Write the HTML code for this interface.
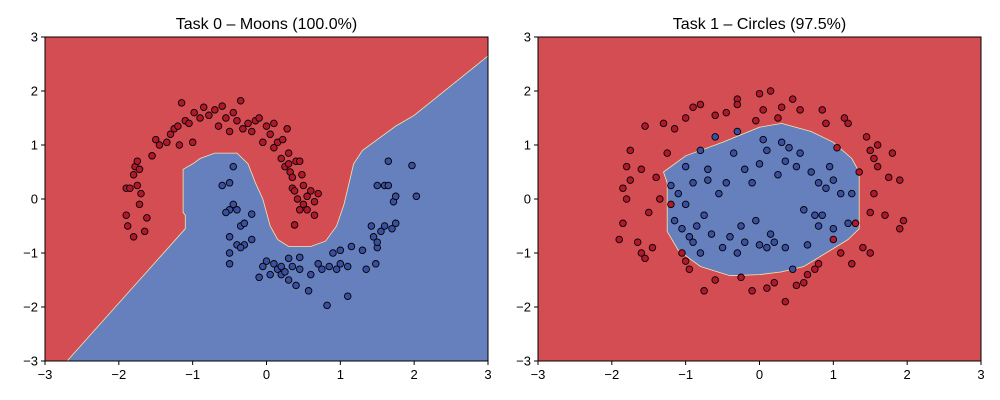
<!DOCTYPE html>
<html><head><meta charset="utf-8"><style>
html,body{margin:0;padding:0;background:#fff;}
svg{display:block;font-family:"Liberation Sans","DejaVu Sans",sans-serif;}
</style></head><body>
<svg id="chart" width="1000" height="400" viewBox="0 0 1000 400" xmlns="http://www.w3.org/2000/svg"></svg>
<script>
const ticks = [-3,-2,-1,0,1,2,3];
const tickLabels = ["\u22123","\u22122","\u22121","0","1","2","3"];
const titles = ["Task 0 \u2013 Moons (100.0%)","Task 1 \u2013 Circles (97.5%)"];
const boundary0 = [[-2.7,-3],[-1.1,-0.55],[-1.1,-0.3],[-1.13,-0.25],[-1.13,0.55],[-1.0,0.65],[-0.9,0.75],[-0.7,0.85],[-0.4,0.85],[-0.25,0.65],[-0.15,0.3],[-0.05,0],[0.05,-0.5],[0.15,-0.75],[0.3,-0.88],[0.6,-0.88],[0.8,-0.78],[0.95,-0.5],[1.05,-0.1],[1.18,0.65],[1.3,0.9],[1.75,1.35],[2,1.55],[3,2.65],[3,-3]];
const boundary1 = [[-1.3,0.5],[-1.0,0.8],[-0.5,1.05],[0,1.33],[0.3,1.4],[0.7,1.25],[1.0,1.05],[1.25,0.75],[1.35,0.5],[1.35,-0.55],[1.2,-0.75],[0.9,-1.0],[0.6,-1.25],[0.3,-1.35],[0,-1.4],[-0.4,-1.42],[-0.8,-1.25],[-1.1,-0.95],[-1.25,-0.6],[-1.25,0.3]];
const moonsRed = [[-1.9,0.2],[-1.85,0.2],[-1.9,-0.3],[-1.88,-0.5],[-1.8,-0.7],[-1.8,0.45],[-1.78,0.6],[-1.75,0.7],[-1.72,0.55],[-1.75,0.25],[-1.7,0.1],[-1.72,-0.1],[-1.65,-0.6],[-1.62,-0.35],[-1.55,0.8],[-1.5,1.1],[-1.45,1.0],[-1.35,1.05],[-1.3,1.2],[-1.25,1.3],[-1.2,1.35],[-1.15,1.78],[-1.1,1.45],[-1.05,1.4],[-1.0,1.05],[-0.98,1.6],[-0.9,1.5],[-0.85,1.7],[-0.78,1.55],[-0.7,1.65],[-0.65,1.35],[-0.6,1.72],[-0.55,1.5],[-0.5,1.25],[-0.45,1.6],[-0.4,1.45],[-0.35,1.82],[-0.32,1.3],[-0.25,1.4],[-0.2,1.25],[-0.15,1.45],[-0.1,1.5],[-0.05,1.05],[0,1.35],[0.05,1.2],[0.1,0.95],[0.15,1.05],[0.2,0.75],[0.22,1.1],[0.25,0.6],[0.28,1.3],[0.3,0.85],[0.32,0.5],[0.35,0.4],[0.35,0.2],[0.4,0.7],[0.42,0.0],[0.45,-0.2],[0.38,-0.48],[0.5,0.25],[0.5,-0.1],[0.55,0.05],[0.6,0.15],[0.65,-0.05],[0.65,-0.3],[0.7,0.1],[0.3,0.65],[0.38,0.15],[0.48,0.45],[-1.18,1.0],[0.1,1.4],[0.45,0.7],[0.55,-0.2]];
const moonsBlue = [[-0.6,0.25],[-0.5,0.3],[-0.45,0.6],[-0.5,-0.2],[-0.55,-0.25],[-0.45,-0.1],[-0.4,-0.2],[-0.35,-0.5],[-0.5,-0.7],[-0.5,-1.0],[-0.5,-1.2],[-0.4,-0.85],[-0.3,-0.85],[-0.2,-0.28],[-0.2,-0.75],[-0.35,-0.9],[-0.05,-1.25],[0,-1.15],[0.05,-1.4],[0.1,-1.2],[0.15,-1.3],[0.2,-1.4],[0.25,-1.35],[0.3,-1.1],[0.3,-1.5],[0.35,-1.25],[0.4,-1.6],[0.45,-1.3],[0.45,-1.08],[0.57,-1.7],[0.6,-1.4],[0.7,-1.2],[0.75,-1.3],[0.82,-1.97],[0.85,-1.25],[0.9,-1.0],[0.95,-1.3],[1.0,-1.2],[1.0,-0.95],[1.1,-1.8],[1.1,-1.25],[1.15,-0.88],[1.3,-0.95],[1.35,-1.3],[1.42,-0.5],[1.45,-0.7],[1.48,-1.2],[1.5,-0.9],[1.5,0.25],[1.55,-0.6],[1.6,-0.5],[1.6,0.25],[1.65,0.7],[1.7,-0.55],[1.72,-0.05],[1.75,-0.45],[1.97,0.62],[2.03,0.05],[1.65,0.25],[1.75,0.05],[1.5,-0.8],[-0.3,-0.45],[0.2,-1.25],[-0.1,-1.45]];
const circRed = [[-1.9,-0.75],[-1.85,-0.45],[-1.8,0.0],[-1.8,0.6],[-1.75,0.35],[-1.75,0.9],[-1.65,-0.8],[-1.6,-1.0],[-1.55,-1.1],[-1.6,0.55],[-1.55,1.35],[-1.5,-0.25],[-1.45,-0.9],[-1.4,0.4],[-1.35,0.0],[-1.3,1.4],[-1.25,0.85],[-1.2,-0.1],[-1.15,1.3],[-1.05,-1.0],[-1.0,-1.15],[-1.0,1.5],[-0.95,-1.3],[-0.9,1.7],[-0.8,1.75],[-0.75,-1.7],[-0.6,1.55],[-0.6,-1.5],[-0.45,1.6],[-0.3,1.85],[-0.3,1.75],[-0.25,-1.45],[-0.05,1.45],[0,1.95],[0.05,1.65],[0.1,-1.65],[0.15,2.0],[0.2,-1.55],[0.25,1.5],[0.3,1.7],[0.35,-1.9],[0.45,1.85],[0.5,-1.6],[0.55,1.65],[0.65,-1.4],[0.75,-1.3],[0.85,1.65],[0.9,1.4],[0.8,-1.2],[1.0,-0.75],[1.05,0.95],[1.1,-1.0],[1.15,1.5],[1.2,1.4],[1.25,-1.2],[1.3,-0.45],[1.35,0.5],[1.4,-0.9],[1.45,1.15],[1.5,0.9],[1.5,-0.25],[1.55,0.75],[1.6,0.6],[1.55,0.1],[1.6,1.0],[1.5,-1.0],[1.7,-0.3],[1.75,0.4],[1.8,0.85],[1.9,0.35],[1.95,-0.4],[1.9,-0.55],[-1.85,0.2],[-0.1,-1.7],[0.6,-1.55]];
const circBlue = [[-1.2,0.25],[-1.15,-0.4],[-1.1,0.1],[-1.05,-0.55],[-1.0,0.6],[-1.0,-0.1],[-0.95,-0.7],[-0.9,0.3],[-0.9,-0.8],[-0.85,-0.5],[-0.8,0.9],[-0.75,-0.3],[-0.7,0.55],[-0.65,-0.65],[-0.6,1.15],[-0.55,0.1],[-0.5,-0.9],[-0.45,0.3],[-0.4,-0.7],[-0.35,0.85],[-0.3,1.25],[-0.3,-1.0],[-0.2,0.55],[-0.2,-0.8],[-0.1,0.3],[-0.05,-0.4],[0,0.65],[0,-0.85],[0.05,1.1],[0.1,0.9],[0.1,-0.9],[0.2,-0.8],[0.25,0.45],[0.3,1.05],[0.35,0.7],[0.35,-0.9],[0.4,0.95],[0.45,-1.3],[0.5,0.6],[0.55,0.85],[0.6,-0.2],[0.65,-0.85],[0.7,0.5],[0.75,-0.3],[0.8,0.3],[0.8,-0.5],[0.85,-0.3],[0.9,0.2],[0.95,0.6],[1.0,-0.55],[1.0,0.35],[1.1,0.1],[1.2,-0.45],[1.25,0.1],[-0.8,-1.0],[-0.25,-0.5],[0.15,-0.65],[-0.7,0.35]];

const NS = "http://www.w3.org/2000/svg";
const svg = document.getElementById('chart');
function mk(tag, attrs, parent){ const e=document.createElementNS(NS,tag); for(const k in attrs) e.setAttribute(k,attrs[k]); (parent||svg).appendChild(e); return e; }
const RED="#d44d53", BLUE="#6580bc";
const panels = [
 {x0:45, x1:488, name:'moons', boundary:boundary0, open:true, red:moonsRed, blue:moonsBlue},
 {x0:538, x1:981, name:'circles', boundary:boundary1, open:false, red:circRed, blue:circBlue}
];
const Y0=37, Y1=361;
panels.forEach((p,i)=>{
  const sx = v => p.x0 + (v+3)/6*(p.x1-p.x0);
  const sy = v => Y1 - (v+3)/6*(Y1-Y0);
  const g = mk('g',{});
  
  
  const bg = mk('rect',{x:p.x0,y:Y0,width:p.x1-p.x0,height:Y1-Y0,fill:RED},g);
  
  
  const pts = p.boundary.map(q=>sx(q[0]).toFixed(1)+','+sy(q[1]).toFixed(1)).join(' ');
  const poly = mk('polygon',{points:pts,fill:BLUE,stroke:'#f3e7b0','stroke-width':0.8},g);
  
  
  [[p.red,'#b2182b','red'],[p.blue,'#3b4ea0','blue']].forEach(([arr,col,nm])=>{
    arr.forEach(q=>{
      const c = mk('circle',{cx:sx(q[0]),cy:sy(q[1]),r:3.3,fill:col,stroke:'#000','stroke-width':0.9},g);
      
      
    });
  });
  const fr = mk('rect',{x:p.x0,y:Y0,width:p.x1-p.x0,height:Y1-Y0,fill:'none',stroke:'#000','stroke-width':1},g);
  
  
  ticks.forEach((t,k)=>{
    mk('line',{x1:sx(t),x2:sx(t),y1:Y1,y2:Y1+4,stroke:'#000'},g);
    const tx = mk('text',{x:sx(t),y:Y1+18,'font-size':13,'text-anchor':'middle',fill:'#000'},g);
    tx.textContent = tickLabels[k];
    
    
    mk('line',{x1:p.x0-4,x2:p.x0,y1:sy(t),y2:sy(t),stroke:'#000'},g);
    const ty = mk('text',{x:p.x0-7,y:sy(t)+4.5,'font-size':13,'text-anchor':'end',fill:'#000'},g);
    ty.textContent = tickLabels[k];
    
    
  });
  const tt = mk('text',{x:(p.x0+p.x1)/2,y:29,'font-size':16,'text-anchor':'middle',fill:'#000'},g);
  tt.textContent = titles[i];
  
  
});
</script>
</body></html>
